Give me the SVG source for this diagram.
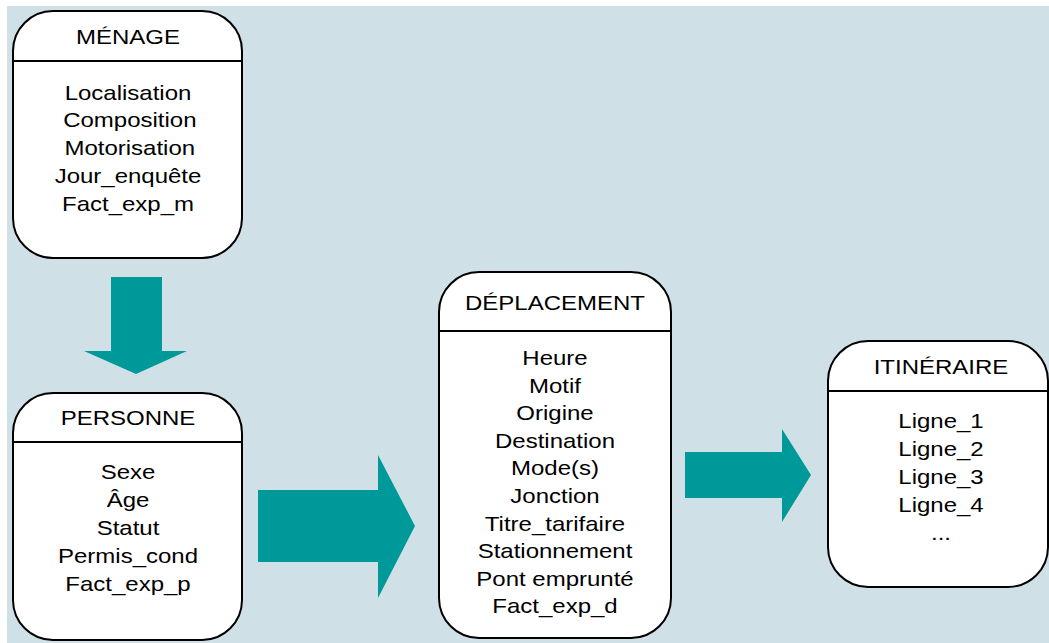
<svg xmlns="http://www.w3.org/2000/svg" width="1049" height="643" viewBox="0 0 1049 643">
<style>
.box{fill:#ffffff;stroke:#000000;stroke-width:2}
.div{stroke:#000000;stroke-width:2}
.arrow{fill:#009999}
text{font-family:"Liberation Sans",Arial,sans-serif;font-size:20px;fill:#000000;text-anchor:middle}
</style>
<rect x="0" y="0" width="1049" height="643" fill="#ffffff"/>
<rect x="7" y="6" width="1042" height="637" fill="#d0e0e7"/>
<g id="connectors">
<polygon class="arrow" points="111,277 162,277 162,351 187,351 136,374 84,351 111,351"/>
<polygon class="arrow" points="258,490 378,490 378,455 415,526 378,598 378,562 258,562"/>
<polygon class="arrow" points="685,452 782,452 782,429 811,475 782,522 782,498 685,498"/>
</g>
<g id="menage">
<rect class="box" x="13" y="11" width="229" height="247" rx="40" ry="40"/>
<line class="div" x1="13" y1="61" x2="242" y2="61"/>
<g transform="matrix(1.2 0 0 1 128 0)">
<text x="0" y="44">MÉNAGE</text>
<text x="0" y="100">Localisation</text>
<text x="1.5" y="127">Composition</text>
<text x="1.5" y="155">Motorisation</text>
<text x="0" y="183">Jour_enquête</text>
<text x="0" y="211">Fact_exp_m</text>
</g>
</g>
<g id="personne">
<rect class="box" x="13" y="393" width="229" height="247" rx="40" ry="40"/>
<line class="div" x1="13" y1="442" x2="242" y2="442"/>
<g transform="matrix(1.2 0 0 1 128 0)">
<text x="0" y="425">PERSONNE</text>
<text x="0" y="479">Sexe</text>
<text x="0" y="507">Âge</text>
<text x="0" y="535">Statut</text>
<text x="0" y="563">Permis_cond</text>
<text x="0" y="591">Fact_exp_p</text>
</g>
</g>
<g id="deplacement">
<rect class="box" x="439" y="272" width="232" height="366" rx="40" ry="40"/>
<line class="div" x1="439" y1="331" x2="671" y2="331"/>
<g transform="matrix(1.2 0 0 1 555 0)">
<text x="0" y="310">DÉPLACEMENT</text>
<text x="0" y="365">Heure</text>
<text x="0" y="392.6">Motif</text>
<text x="0" y="420.2">Origine</text>
<text x="0" y="447.8">Destination</text>
<text x="0" y="475.4">Mode(s)</text>
<text x="0" y="503">Jonction</text>
<text x="0" y="530.6">Titre_tarifaire</text>
<text x="0" y="558.2">Stationnement</text>
<text x="0" y="585.8">Pont emprunté</text>
<text x="0" y="613.4">Fact_exp_d</text>
</g>
</g>
<g id="itineraire">
<rect class="box" x="828" y="341" width="220" height="246" rx="40" ry="40"/>
<line class="div" x1="828" y1="391" x2="1048" y2="391"/>
<g transform="matrix(1.2 0 0 1 941 0)">
<text x="0" y="374">ITINÉRAIRE</text>
<text x="0" y="428">Ligne_1</text>
<text x="0" y="456">Ligne_2</text>
<text x="0" y="484">Ligne_3</text>
<text x="0" y="512">Ligne_4</text>
<text x="0" y="540">...</text>
</g>
</g>
</svg>
